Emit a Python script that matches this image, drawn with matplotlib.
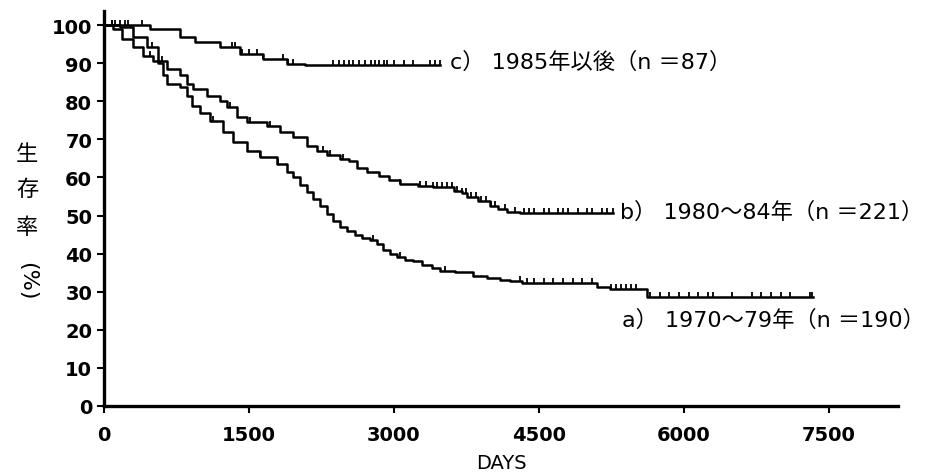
import numpy as np
import matplotlib
matplotlib.use("Agg")
import matplotlib.pyplot as plt

plt.rcParams['font.family'] = ['DejaVu Sans', 'Noto Sans CJK JP']

# Kaplan-Meier steps: (days, survival %)
a_days = [0, 165, 300, 440, 560, 610, 650, 790, 860, 910, 995, 1095, 1235, 1335,
          1480, 1610, 1790, 1895, 1960, 2030, 2100, 2160, 2235, 2305, 2370, 2440,
          2515, 2595, 2670, 2750, 2825, 2885, 2960, 3030, 3115, 3195, 3290, 3395,
          3475, 3630, 3815, 3960, 4095, 4200, 4325, 5100, 5235, 5620, 7335]
a_surv = [100, 99.5, 96.8, 94.2, 90, 87, 84.5, 83.7, 81.4, 78.7, 77, 74.8, 72, 69.3,
          67, 65.3, 63.5, 61.4, 60, 58, 56.3, 54.3, 52.5, 50.5, 48.5, 47,
          46, 45, 44, 43.5, 42.5, 41, 40, 39, 38.3, 38, 37, 36.2,
          35.5, 35.2, 34.2, 33.6, 33.2, 32.7, 32.3, 31.2, 30.7, 28.6, 28.6]

b_days = [0, 90, 190, 300, 400, 510, 650, 790, 860, 920, 1065, 1200, 1270, 1380,
          1480, 1690, 1820, 1960, 2100, 2200, 2310, 2440, 2540, 2620, 2720, 2850,
          2950, 3060, 3250, 3400, 3620, 3700, 3755, 3870, 3990, 4080, 4170, 4300,
          5265]
b_surv = [100, 99, 96.3, 94.2, 92, 90.5, 88.5, 87, 84.5, 83.2, 81.4, 80, 78.5, 75.9,
          74.5, 73.5, 72, 70.6, 68.2, 67, 66, 64.8, 64.3, 62.5, 61.4, 60.3,
          59.3, 58.3, 57.8, 57.5, 56.5, 55.8, 55, 53.8, 52.5, 51.7, 51, 50.7,
          50.7]

c_days = [0, 476, 786, 941, 1200, 1407, 1645, 1893, 2080, 3475]
c_surv = [100, 99, 97, 95.5, 94.2, 92.4, 91, 89.8, 89.4, 89.4]

# censored observations (days)
a_cens = [500, 1130, 1610, 1800, 2780, 3060, 3530, 4300, 4380, 4450, 4550, 4650,
          4750, 4850, 4950, 5050, 5250, 5300, 5350, 5400, 5450, 5500, 5650, 5750,
          5850, 5950, 6050, 6150, 6250, 6300, 6500, 6700, 6800, 6900, 7000, 7100,
          7300, 7330]
b_cens = [80, 480, 600, 1300, 1510, 1720, 2270, 2340, 2470, 3060, 3270, 3330,
          3400, 3450, 3500, 3550, 3600, 3650, 3700, 3750, 3800, 3850, 3900, 3950,
          4000, 4050, 4150, 4250, 4350, 4400, 4450, 4550, 4600, 4700, 4750, 4800,
          4900, 5000, 5050, 5150, 5200, 5265]
c_cens = [80, 115, 170, 220, 250, 395, 1320, 1360, 1430, 1500, 1580, 1650, 1850,
          1900, 1960, 2370, 2430, 2480, 2530, 2580, 2640, 2700, 2760, 2800, 2850,
          2900, 2930, 3000, 3100, 3200, 3370, 3420, 3475]

labels = ["a） 1970～79年（n ＝190）", "b） 1980～84年（n ＝221）", "c） 1985年以後（n ＝87）"]
label_pos = [(5360, 22.8), (5340, 51), (3580, 90.5)]

fig = plt.figure(figsize=(9.26, 4.77), dpi=100)
ax = fig.add_axes([104 / 926, 1 - 407 / 477, 794 / 926, 395 / 477])

tick_marker = [(0, 0), (0, 1)]
for days, surv, cens in [(a_days, a_surv, a_cens), (b_days, b_surv, b_cens),
                         (c_days, c_surv, c_cens)]:
    ax.step(days, surv, where='post', color='black', lw=1.8)
    idx = np.searchsorted(days, cens, side='right') - 1
    ys = np.array(surv)[idx]
    ax.plot(cens, ys, ls='none', marker=tick_marker, ms=7, mew=1.3, color='black')

for txt, (x, y) in zip(labels, label_pos):
    ax.text(x, y, txt, fontsize=16, va='center', ha='left',
            family=['DejaVu Sans', 'Noto Sans CJK JP'])

ax.set_xlim(0, 8215)
ax.set_ylim(0, 103.7)
ax.set_xticks([0, 1500, 3000, 4500, 6000, 7500])
ax.set_yticks(range(0, 101, 10))
ax.tick_params(labelsize=14, length=5, width=1.5, direction='out')
ax.tick_params(axis='x', pad=9)
for lab in ax.get_xticklabels() + ax.get_yticklabels():
    lab.set_fontweight('bold')
ax.spines['top'].set_visible(False)
ax.spines['right'].set_visible(False)
ax.spines['left'].set_linewidth(2.4)
ax.spines['bottom'].set_linewidth(2.4)
ax.set_xlabel("DAYS", fontsize=14, labelpad=6)

# vertical y label: 生存率(%)
for ch, ypx in [("生", 155), ("存", 190), ("率", 228)]:
    fig.text(27 / 926, 1 - ypx / 477, ch, fontsize=16, ha='center', va='center',
             family=['Noto Sans CJK JP'])
fig.text(27 / 926, 1 - 281 / 477, "(%)", fontsize=16, ha='center', va='center',
         rotation=-90, family=['DejaVu Sans'])

fig.savefig("out.png", dpi=100)
